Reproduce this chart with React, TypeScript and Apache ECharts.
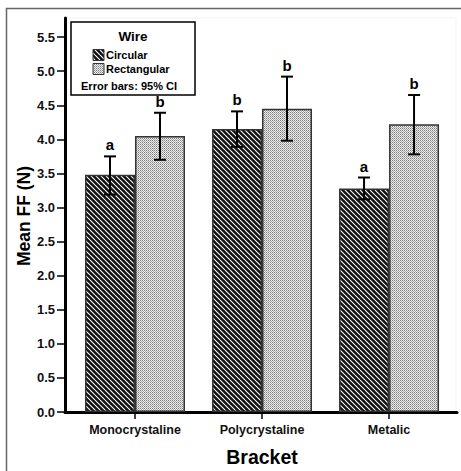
import React, { useEffect, useRef } from "react";
import * as echarts from "echarts";

const categories = ["Monocrystaline", "Polycrystaline", "Metalic"];
const seriesNames = ["Circular", "Rectangular"];
const circularMeans = [3.48, 4.15, 3.28];
const circularLow = [3.19, 3.89, 3.12];
const circularHigh = [3.75, 4.41, 3.44];
const rectangularMeans = [4.05, 4.45, 4.22];
const rectangularLow = [3.70, 3.98, 3.78];
const rectangularHigh = [4.39, 4.92, 4.65];
const circularLetters = ["a", "b", "a"];
const rectangularLetters = ["b", "b", "b"];
const yTicks = [0, 0.5, 1, 1.5, 2, 2.5, 3, 3.5, 4, 4.5, 5, 5.5];

const FONT = "'Liberation Sans', Arial, sans-serif";

function makeHatch(): string {
  const c = document.createElement("canvas");
  const s = 5;
  c.width = s;
  c.height = s;
  const g = c.getContext("2d")!;
  g.fillStyle = "#111";
  g.fillRect(0, 0, s, s);
  g.strokeStyle = "#fff";
  g.lineWidth = 1.1;
  for (const k of [-s, 0, s]) {
    g.beginPath();
    g.moveTo(0, k);
    g.lineTo(s, s + k);
    g.stroke();
  }
  return c.toDataURL();
}

function makeDots(): string {
  const c = document.createElement("canvas");
  c.width = 2;
  c.height = 2;
  const g = c.getContext("2d")!;
  g.fillStyle = "#eeeeee";
  g.fillRect(0, 0, 2, 2);
  g.fillStyle = "#7a7a7a";
  g.fillRect(0, 0, 1, 1);
  g.fillStyle = "#aaaaaa";
  g.fillRect(1, 1, 1, 1);
  return c.toDataURL();
}

export default function App() {
  const ref = useRef<HTMLDivElement>(null);
  useEffect(() => {
    if (!ref.current) return;
    const chart = echarts.init(ref.current, undefined, { renderer: "svg" });
    const hatch = { image: makeHatch(), repeat: "repeat" } as any;
    const dots = { image: makeDots(), repeat: "repeat" } as any;
    const barW = 50;

    const errSeries = (
      low: number[],
      high: number[],
      letters: string[],
      offset: number,
      name: string
    ) => ({
      type: "custom",
      name: name + " CI",
      z: 5,
      encode: { x: 0, y: [1, 2] },
      data: low.map((l, i) => [i, l, high[i]]),
      renderItem: (params: any, api: any) => {
        const x = api.value(0);
        const pl = api.coord([x, api.value(1)]);
        const ph = api.coord([x, api.value(2)]);
        const cx = pl[0] + offset;
        const cap = 6;
        const st = { stroke: "#000", lineWidth: 2 };
        return {
          type: "group",
          children: [
            { type: "line", shape: { x1: cx, y1: pl[1], x2: cx, y2: ph[1] }, style: st },
            { type: "line", shape: { x1: cx - cap, y1: ph[1], x2: cx + cap, y2: ph[1] }, style: st },
            { type: "line", shape: { x1: cx - cap, y1: pl[1], x2: cx + cap, y2: pl[1] }, style: st },
            {
              type: "text",
              x: cx,
              y: ph[1] - 4,
              style: {
                text: letters[params.dataIndex],
                textAlign: "center",
                textVerticalAlign: "bottom",
                font: `bold 15px ${FONT}`,
                fill: "#000",
              },
            },
          ],
        };
      },
    });

    chart.setOption({
      animation: false,
      backgroundColor: "#fff",
      grid: {
        left: 65,
        top: 18,
        right: 4,
        bottom: 59,
        containLabel: false,
        outerBoundsMode: "none",
      } as any,
      xAxis: {
        type: "value",
        min: -0.551,
        max: 2.535,
        splitLine: { show: false },
        axisLine: { show: true, onZero: false, lineStyle: { color: "#000", width: 3 } },
        axisTick: { show: true, length: 7, customValues: [0, 1, 2], lineStyle: { color: "#000", width: 1.5 } },
        axisLabel: {
          customValues: [0, 1, 2],
          formatter: (v: number) => categories[Math.round(v)] ?? "",
          fontFamily: FONT,
          fontWeight: "bold",
          fontSize: 12.5,
          color: "#111",
          margin: 11,
        },
      } as any,
      yAxis: {
        type: "value",
        min: 0,
        max: 5.78,
        splitLine: { show: false },
        axisLine: { show: true, onZero: false, lineStyle: { color: "#000", width: 3 } },
        axisTick: { show: true, length: 8, customValues: yTicks, lineStyle: { color: "#000", width: 1.5 } },
        axisLabel: {
          customValues: yTicks,
          formatter: (v: number) => v.toFixed(1),
          fontFamily: FONT,
          fontWeight: "bold",
          fontSize: 13,
          color: "#111",
          margin: 10,
        },
      } as any,
      graphic: [
        {
          type: "rect",
          shape: { x: 6.5, y: 8.5, width: 480, height: 480 },
          style: { fill: "none", stroke: "#666", lineWidth: 1.5 },
          z: 0,
        },
        {
          type: "rect",
          shape: { x: 66, y: 18, width: 390, height: 394 },
          style: { fill: "none", stroke: "#f2f2f2", lineWidth: 1 },
          z: 0,
        },
        {
          type: "rect",
          shape: { x: 71, y: 22, width: 124, height: 73 },
          style: { fill: "#fff", stroke: "#000", lineWidth: 1.5 },
          z: 10,
        },
        {
          type: "text",
          x: 133,
          y: 36,
          style: { text: "Wire", textAlign: "center", textVerticalAlign: "middle", font: `bold 13.5px ${FONT}`, fill: "#000" },
          z: 11,
        },
        {
          type: "rect",
          shape: { x: 93, y: 49.5, width: 11, height: 11 },
          style: { fill: hatch, stroke: "#333", lineWidth: 1 },
          z: 11,
        },
        {
          type: "text",
          x: 106,
          y: 55,
          style: { text: seriesNames[0], textAlign: "left", textVerticalAlign: "middle", font: `bold 11px ${FONT}`, fill: "#000" },
          z: 11,
        },
        {
          type: "rect",
          shape: { x: 93, y: 63.5, width: 11, height: 11 },
          style: { fill: dots, stroke: "#333", lineWidth: 1 },
          z: 11,
        },
        {
          type: "text",
          x: 106,
          y: 69,
          style: { text: seriesNames[1], textAlign: "left", textVerticalAlign: "middle", font: `bold 11px ${FONT}`, fill: "#000" },
          z: 11,
        },
        {
          type: "text",
          x: 129,
          y: 86,
          style: { text: "Error bars: 95% CI", textAlign: "center", textVerticalAlign: "middle", font: `bold 11px ${FONT}`, fill: "#000" },
          z: 11,
        },
        {
          type: "text",
          x: 24,
          y: 216,
          rotation: Math.PI / 2,
          style: { text: "Mean FF (N)", textAlign: "center", textVerticalAlign: "middle", font: `bold 17.5px ${FONT}`, fill: "#000" },
          z: 11,
        },
        {
          type: "text",
          x: 262,
          y: 457,
          style: { text: "Bracket", textAlign: "center", textVerticalAlign: "middle", font: `bold 19.5px ${FONT}`, fill: "#000" },
          z: 11,
        },
      ],
      series: [
        {
          type: "bar",
          name: seriesNames[0],
          barWidth: barW,
          barGap: "0%",
          data: circularMeans.map((v, i) => [i, v]),
          itemStyle: { color: hatch, borderColor: "#333", borderWidth: 1.5 },
        },
        {
          type: "bar",
          name: seriesNames[1],
          barWidth: barW,
          barGap: "0%",
          data: rectangularMeans.map((v, i) => [i, v]),
          itemStyle: { color: dots, borderColor: "#333", borderWidth: 1.5 },
        },
        errSeries(circularLow, circularHigh, circularLetters, -barW / 2, seriesNames[0]),
        errSeries(rectangularLow, rectangularHigh, rectangularLetters, barW / 2, seriesNames[1]),
      ],
    } as any);
    return () => chart.dispose();
  }, []);
  return (
    <div
      ref={ref}
      style={{ position: "fixed", left: 0, top: 0, width: 461, height: 471 }}
    />
  );
}
